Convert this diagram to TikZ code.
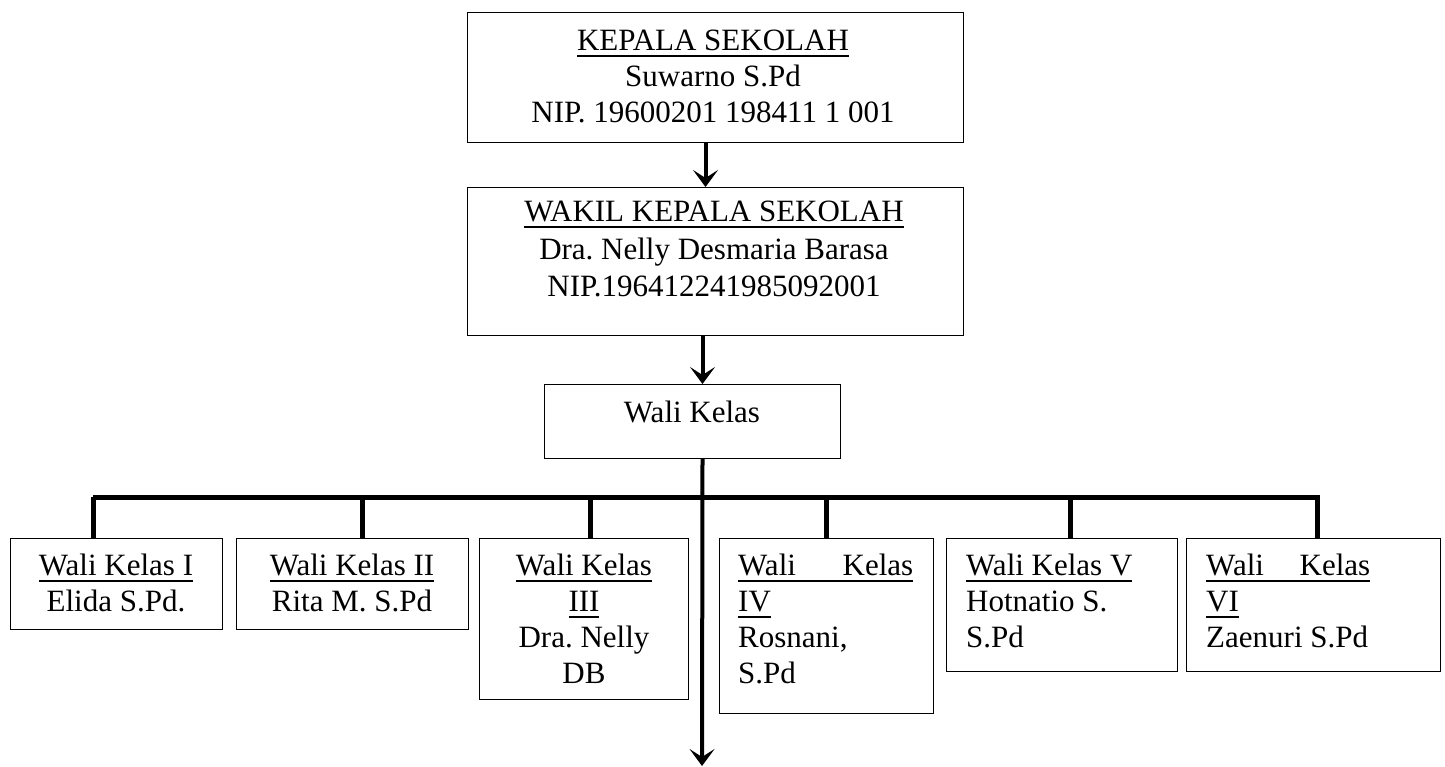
\documentclass[tikz,border=0pt]{standalone}
\usepackage{fontspec}
\setmainfont{Liberation Serif}
\usepackage{tikz}
\usetikzlibrary{arrows.meta}

\newcommand{\garisbawah}[1]{\setbox0\hbox{#1}\rlap{\rule[-6pt]{\wd0}{2pt}}\box0}

\begin{document}
\frenchspacing
\begin{tikzpicture}[x=1pt,y=-1pt,>={Stealth[length=17pt,width=25pt,inset=8pt]},font=\fontsize{31}{36}\selectfont]
    \tikzstyle{kotak}=[draw,line width=1pt,anchor=north west,inner sep=0pt]
    \tikzstyle{isi}=[inner sep=0pt,anchor=north,align=center,execute at begin node=\strut]
    \tikzstyle{isikiri}=[isi,anchor=north west,align=left]
    \tikzstyle{garis}=[line width=5pt]
    \tikzstyle{panah}=[->,line width=4pt]

    \useasboundingbox (0,0) rectangle (1445,767);

    \node[kotak,minimum width=496pt,minimum height=130pt] (kepala) at (467,12) {};
    \node[kotak,minimum width=496pt,minimum height=148pt] (wakil) at (467,187) {};
    \node[kotak,minimum width=296pt,minimum height=74pt] (wali) at (544,384) {};

    \foreach \n/\x/\w/\h in {wk1/10/212/91, wk2/236/232/91, wk3/479/209/161,
                             wk4/719/214/175, wk5/946/231/133, wk6/1186/254/133}
        \node[kotak,minimum width=\w pt,minimum height=\h pt] (\n) at (\x,538) {};

    \node[isi] (t-kepala) at (713,30) {\garisbawah{KEPALA SEKOLAH}\\ Suwarno S.Pd\\ NIP. 19600201 198411 1 001};
    \node[isi,font=\fontsize{31}{37.5}\selectfont] (t-wakil) at (714,201) {\garisbawah{WAKIL KEPALA SEKOLAH}\\ Dra. Nelly Desmaria Barasa\\ NIP.196412241985092001};
    \node[isi] (t-wali) at (692,397) {Wali Kelas};

    \node[isi] (t-wk1) at (116,554) {\garisbawah{Wali Kelas I}\\ Elida S.Pd.};
    \node[isi] (t-wk2) at (352,554) {\garisbawah{Wali Kelas II}\\ Rita M. S.Pd};
    \node[isi] (t-wk3) at (584,554) {\garisbawah{Wali Kelas}\\ \garisbawah{III}\\ Dra. Nelly\\ DB};
    \node[isikiri] (t-wk4) at (738,554) {\garisbawah{\hbox to 175pt{Wali\hfill Kelas}}\\ \garisbawah{IV}\\ Rosnani,\\ S.Pd};
    \node[isikiri] (t-wk5) at (966,554) {\garisbawah{Wali Kelas V}\\ Hotnatio S.\\ S.Pd};
    \node[isikiri] (t-wk6) at (1206,554) {\garisbawah{\hbox to 164pt{Wali\hfill Kelas}}\\ \garisbawah{VI}\\ Zaenuri S.Pd};

    \coordinate (busL) at (93,497);
    \coordinate (ujung) at (702,766);

    \draw[panah] ([xshift=-10pt]kepala.south) -- ([xshift=-10pt]wakil.north);
    \draw[panah] ([xshift=-13pt]wakil.south) -- ([xshift=10pt]wali.north);

    \foreach \n/\dx in {wk1/83, wk2/126, wk3/111, wk4/107, wk5/124, wk6/131}
        \draw[garis] ([xshift=\dx pt]\n.north west) |- (busL);

    \draw[panah] ([xshift=10pt]wali.south) -- (ujung);
\end{tikzpicture}
\end{document}
